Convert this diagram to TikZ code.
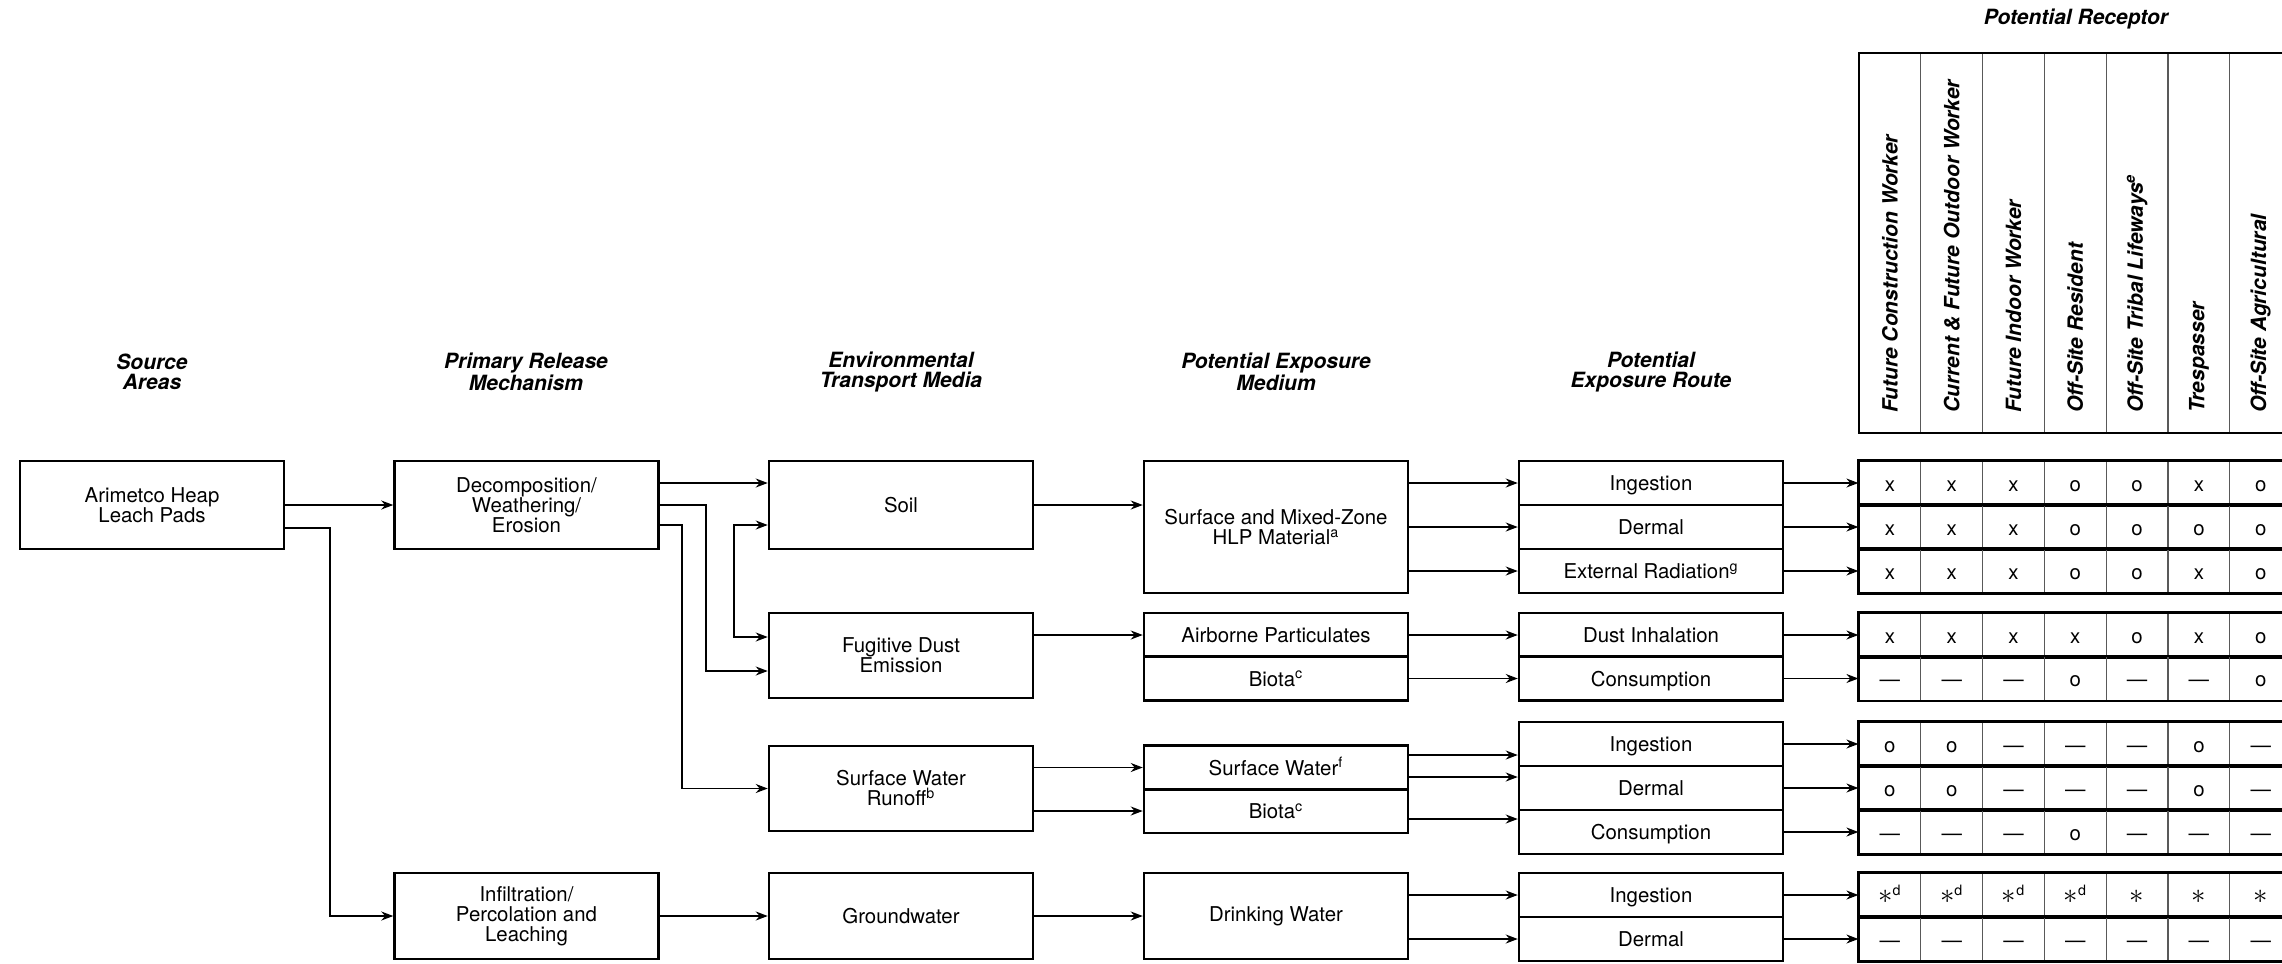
\documentclass[tikz,border=0pt]{standalone}
\usepackage{fontspec}
\setmainfont{TeX Gyre Heros}
\usetikzlibrary{arrows.meta}
\newcommand{\dsh}{\textemdash}
\newcommand{\sta}{{\fontsize{15}{15}\selectfont$\ast$}}
\newcommand{\stad}{{\fontsize{15}{15}\selectfont$\ast$}\textsuperscript{d}}
\tikzset{
  mainbox/.style={draw,line width=1.25pt,minimum width=132pt,minimum height=44pt,inner sep=0pt,align=center,font=\fontsize{10.2}{10}\selectfont},
  rowbox/.style={mainbox,minimum height=22pt,text height=7.5pt,text depth=0pt},
  tcell/.style={draw=black!65,line width=0.6pt,minimum width=30.9pt,minimum height=22pt,inner sep=0pt,text height=8pt,text depth=0pt,font=\fontsize{10.2}{10}\selectfont},
  colhead/.style={align=center,font=\fontsize{10.5}{10}\selectfont\bfseries\itshape},
  recp/.style={rotate=90,anchor=west,inner sep=0pt,font=\fontsize{10.5}{10}\selectfont\bfseries\itshape},
  sepline/.style={line width=0.6pt,draw=black!65},
  arr/.style={line width=0.6pt,-{Stealth[length=6pt,width=4.5pt]}},
  darr/.style={line width=0.6pt,{Stealth[length=6pt,width=4.5pt]}-{Stealth[length=6pt,width=4.5pt]}}
}
\begin{document}
\begin{tikzpicture}[x=0.5pt,y=-0.5pt]
  \useasboundingbox (0,0) rectangle (2282,964);
  \clip (0,0) rectangle (2282,964);
  % column headings
  \node[colhead] (hsrc) at (152,372) {Source\\Areas};
  \node[colhead] (hrel) at (526,372) {Primary Release\\Mechanism};
  \node[colhead] (henv) at (901,372) {Environmental\\Transport Media};
  \node[colhead] (hmed) at (1276,372) {Potential Exposure\\Medium};
  \node[colhead] (hrte) at (1651,372) {Potential\\Exposure Route};
  \node[colhead] (hrec) at (2076,19) {Potential Receptor};
  % source and release
  \node[mainbox] (src) at (152,505) {Arimetco Heap\\Leach Pads};
  \node[mainbox] (decomp) at (526.5,505) {Decomposition/\\Weathering/\\Erosion};
  \node[mainbox,minimum height=43pt] (infil) at (526.5,916) {Infiltration/\\Percolation and\\Leaching};
  % transport media
  \node[mainbox] (soil) at (901,505) {Soil};
  \node[mainbox,minimum height=42.5pt] (dust) at (901,655.5) {Fugitive Dust\\Emission};
  \node[mainbox,minimum height=42.5pt] (runoff) at (901,788.5) {Surface Water\\Runoff\textsuperscript{b}};
  \node[mainbox,minimum height=43pt] (gw) at (901,916) {Groundwater};
  % exposure medium
  \node[mainbox,minimum height=66pt] (hlp) at (1276,527) {Surface and Mixed-Zone\\HLP Material\textsuperscript{a}};
  \node[rowbox] (air) at (1276,635) {Airborne Particulates};
  \node[rowbox] (biota1) at (1276,678.5) {Biota\textsuperscript{c}};
  \node[rowbox] (sw) at (1276,767.5) {Surface Water\textsuperscript{f}};
  \node[rowbox] (biota2) at (1276,811) {Biota\textsuperscript{c}};
  \node[mainbox,minimum height=43pt] (dw) at (1276,916) {Drinking Water};
  % exposure route
  \node[rowbox] (ing1) at (1651,483) {Ingestion};
  \node[rowbox] (derm1) at (1651,527) {Dermal};
  \node[rowbox] (ext) at (1651,571) {External Radiation\textsuperscript{g}};
  \node[rowbox] (inh) at (1651,635) {Dust Inhalation};
  \node[rowbox] (cons1) at (1651,678.5) {Consumption};
  \node[rowbox] (ing2) at (1651,744) {Ingestion};
  \node[rowbox] (derm2) at (1651,788) {Dermal};
  \node[rowbox] (cons2) at (1651,832) {Consumption};
  \node[rowbox] (ing3) at (1651,895) {Ingestion};
  \node[rowbox] (derm3) at (1651,939) {Dermal};
  % receptor table
  \foreach \c/\txt in {1/Future Construction Worker,2/Current \& Future Outdoor Worker,3/Future Indoor Worker,4/Off-Site Resident,5/Off-Site Tribal Lifeways\textsuperscript{e},6/Trespasser,7/Off-Site Agricultural}
    \node[recp] (rec\c) at ({1859+61.8*(\c-0.5)},413) {\txt};
  \foreach \c in {1,...,6}
    \draw[sepline] ({1859+61.8*\c},53) -- ({1859+61.8*\c},433);
  \draw[line width=1.25pt] (1859,53) rectangle (2292,433);
  \foreach \r/\yy/\vals in {1/483/{x,x,x,o,o,x,o},2/527/{x,x,x,o,o,o,o},3/571/{x,x,x,o,o,x,o},
      4/635/{x,x,x,x,o,x,o},5/678.5/{\dsh,\dsh,\dsh,o,\dsh,\dsh,o},
      6/744/{o,o,\dsh,\dsh,\dsh,o,\dsh},7/788/{o,o,\dsh,\dsh,\dsh,o,\dsh},8/832/{\dsh,\dsh,\dsh,o,\dsh,\dsh,\dsh},
      9/895/{\stad,\stad,\stad,\stad,\sta,\sta,\sta},10/939/{\dsh,\dsh,\dsh,\dsh,\dsh,\dsh,\dsh}}{
    \foreach \v [count=\c] in \vals
      \node[tcell] (t\r-\c) at ({1859+61.8*(\c-0.5)},\yy) {\v};
    \draw[line width=1.25pt] (t\r-1.north west) rectangle (t\r-7.south east);
  }
  % connectors
  \draw[arr] (src.east) -- (decomp.west);
  \draw[arr] (src.east |- 0,528) -- (330,528) |- (infil.west);
  \draw[arr] (decomp.east |- 0,483) -- (soil.west |- 0,483);
  \draw[arr] (decomp.east) -- (706,505) |- (dust.west |- 0,671);
  \draw[arr] (decomp.east |- 0,525) -- (682,525) |- (runoff.west);
  \draw[darr] (soil.west |- 0,525) -- (734,525) -- (734,637) -- (dust.west |- 0,637);
  \draw[arr] (infil.east) -- (gw.west);
  \draw[arr] (soil.east) -- (hlp.west |- soil.east);
  \draw[arr] (dust.east |- air.west) -- (air.west);
  \draw[arr] (runoff.east |- sw.west) -- (sw.west);
  \draw[arr] (runoff.east |- biota2.west) -- (biota2.west);
  \draw[arr] (gw.east) -- (dw.west);
  \foreach \a in {ing1,derm1,ext}
    \draw[arr] (hlp.east |- \a.west) -- (\a.west);
  \draw[arr] (air.east) -- (inh.west);
  \draw[arr] (biota1.east) -- (cons1.west);
  \draw[arr] (sw.east |- 0,755) -- (ing2.west |- 0,755);
  \draw[arr] (sw.east |- 0,777) -- (derm2.west |- 0,777);
  \draw[arr] (biota2.east |- 0,819) -- (cons2.west |- 0,819);
  \draw[arr] (dw.east |- ing3.west) -- (ing3.west);
  \draw[arr] (dw.east |- derm3.west) -- (derm3.west);
  \foreach \a/\r in {ing1/1,derm1/2,ext/3,inh/4,cons1/5,ing2/6,derm2/7,cons2/8,ing3/9,derm3/10}
    \draw[arr] (\a.east) -- (t\r-1.west);
\end{tikzpicture}
\end{document}
